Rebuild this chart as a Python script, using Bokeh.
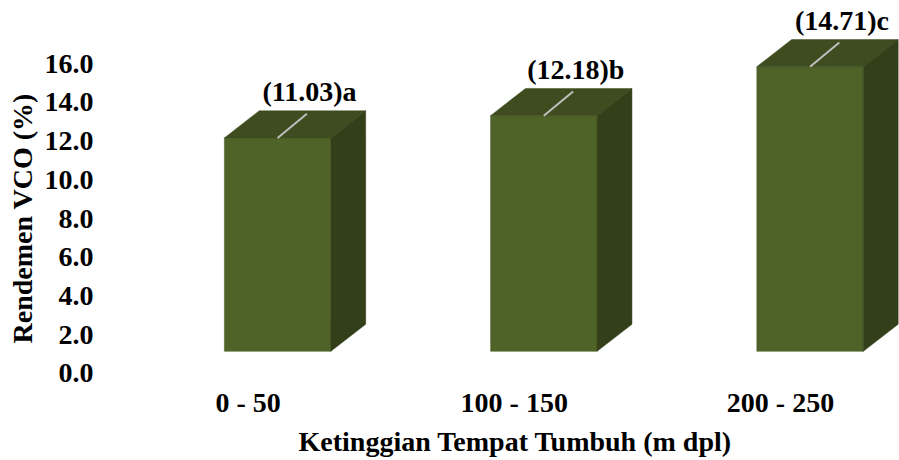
from bokeh.plotting import figure
from bokeh.models import Range1d, FixedTicker, NumeralTickFormatter, ColumnDataSource, Title
from bokeh.embed import file_html
from bokeh.resources import INLINE
from bokeh.core.properties import value

# ---- data ----
categories = ["0 - 50", "100 - 150", "200 - 250"]
rendemen = [11.03, 12.18, 14.71]
notasi = ["a", "b", "c"]
y_ticks = [0, 2, 4, 6, 8, 10, 12, 14, 16]
x_title = "Ketinggian Tempat Tumbuh (m dpl)"
y_title = "Rendemen VCO (%)"

# ---- style ----
FONT = "Liberation Serif"
FS = "28px"
FLOOR = 1.14          # 3-D floor offset of the front face (data units)
FRONT_L, FRONT_R = -0.089, 0.311   # front face relative to category position
DX, DY = 0.131, 1.40  # depth of the 3-D extrusion
C_FRONT, C_TOP, C_SIDE = "#4F6228", "#3E4C1F", "#323F19"

xs = list(range(len(categories)))

front = dict(left=[], right=[], bottom=[], top=[])
top_xs, top_ys, side_xs, side_ys = [], [], [], []
lead_x0, lead_y0, lead_x1, lead_y1 = [], [], [], []
lab_x, lab_y, lab_t = [], [], []
for c, v, n in zip(xs, rendemen, notasi):
    l, r = c + FRONT_L, c + FRONT_R
    b, t = FLOOR, FLOOR + v
    front["left"].append(l); front["right"].append(r)
    front["bottom"].append(b); front["top"].append(t)
    top_xs.append([l, l + DX, r + DX, r]); top_ys.append([t, t + DY, t + DY, t])
    side_xs.append([r, r + DX, r + DX, r]); side_ys.append([b, b + DY, t + DY, t])
    cx = (l + r) / 2
    lead_x0.append(cx); lead_y0.append(t)
    lead_x1.append(cx + 0.11); lead_y1.append(t + 1.25)
    lab_x.append(cx + 0.12); lab_y.append(t + DY + 0.2)
    lab_t.append(f"({v:.2f}){n}")

p = figure(width=899, height=460,
           x_range=Range1d(-0.573, 2.447), y_range=Range1d(-0.52, 19.27),
           output_backend="svg", toolbar_location=None,
           min_border_left=6, min_border_right=0, min_border_top=0, min_border_bottom=0)
p.outline_line_color = None
p.xgrid.visible = False
p.ygrid.visible = False

p.quad(source=ColumnDataSource(front), left="left", right="right", bottom="bottom", top="top",
       fill_color=C_FRONT, line_color=C_FRONT, line_width=0.5)
p.patches(top_xs, top_ys, fill_color=C_TOP, line_color=C_TOP, line_width=0.5)
p.patches(side_xs, side_ys, fill_color=C_SIDE, line_color=C_SIDE, line_width=0.5)
p.segment(lead_x0, lead_y0, lead_x1, lead_y1, line_color="#BFBFBF", line_width=2)
p.text(lab_x, lab_y, text=lab_t, text_align="center", text_baseline="bottom",
       text_font=value(FONT), text_font_style="bold", text_font_size=FS, text_color="black")

# axes
p.yaxis.ticker = FixedTicker(ticks=y_ticks)
p.yaxis.formatter = NumeralTickFormatter(format="0.0")
p.xaxis.ticker = FixedTicker(ticks=xs)
p.xaxis.major_label_overrides = {i: c for i, c in zip(xs, categories)}
for ax in (p.xaxis, p.yaxis):
    ax.axis_line_color = None
    ax.major_tick_line_color = None
    ax.minor_tick_line_color = None
    ax.major_tick_out = 0
    ax.major_tick_in = 0
    ax.major_label_text_font = FONT
    ax.major_label_text_font_style = "bold"
    ax.major_label_text_font_size = FS
    ax.major_label_text_color = "black"
p.yaxis.major_label_standoff = 2
p.xaxis.major_label_standoff = 3

# axis titles (placed as side titles so they can be offset like the original)
p.add_layout(Title(text=x_title, align="left", offset=203, standoff=7,
                   text_font=FONT, text_font_style="bold", text_font_size=FS,
                   text_color="black"), "below")
p.add_layout(Title(text=y_title, align="left", offset=40, standoff=8,
                   text_font=FONT, text_font_style="bold", text_font_size=FS,
                   text_color="black"), "left")

open("out.html", "w").write(file_html(p, INLINE))
